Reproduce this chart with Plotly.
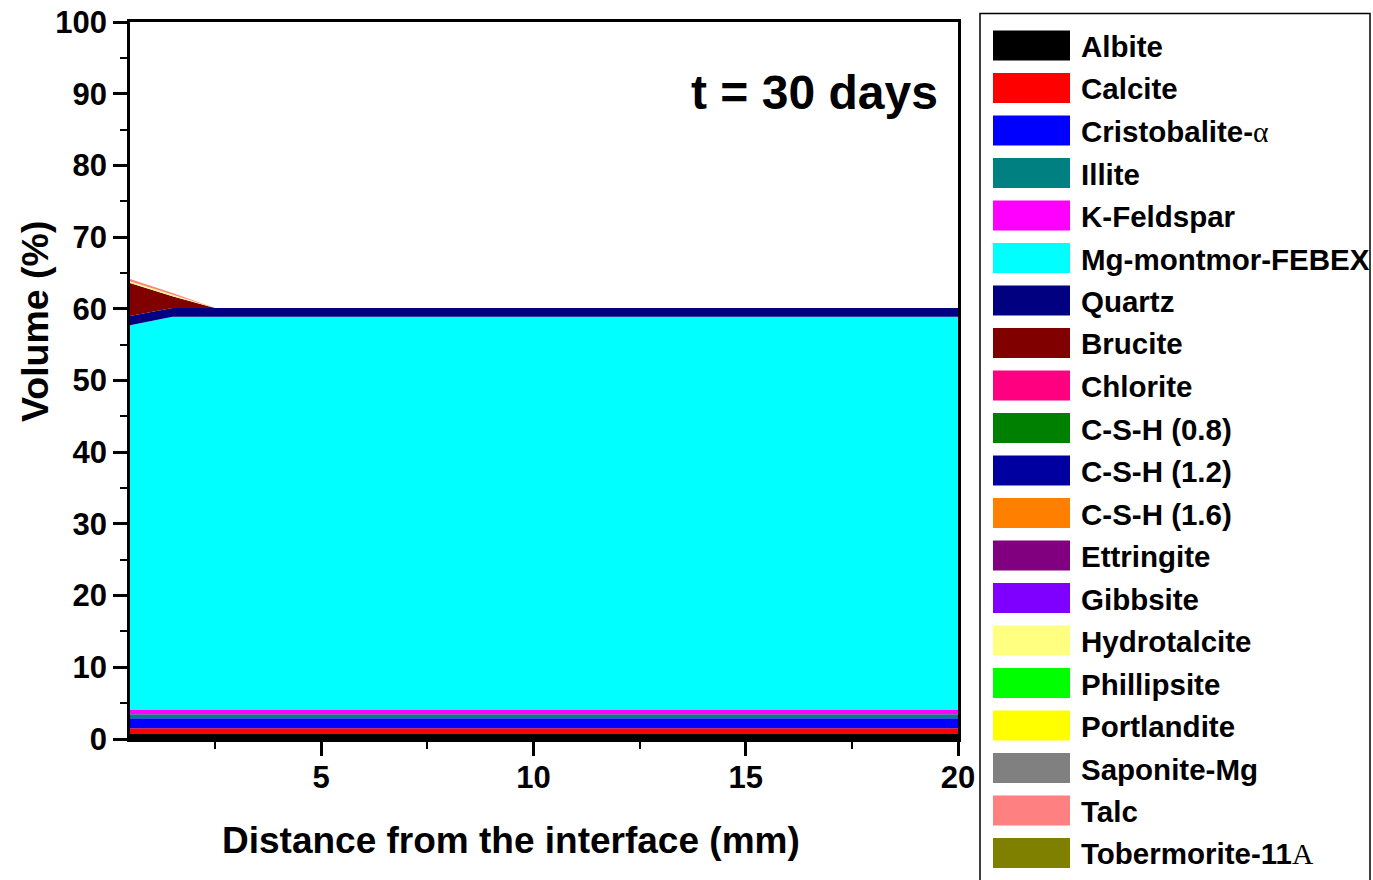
import plotly.graph_objects as go

# ---- data (volume %) ----
distance_mm = [0.5, 1.5, 2.5, 20.0]

albite = [0.7, 0.7, 0.7, 0.7]
calcite = [0.8, 0.8, 0.8, 0.8]
cristobalite = [1.4, 1.4, 1.4, 1.4]
illite = [0.55, 0.55, 0.55, 0.55]
k_feldspar = [0.6, 0.6, 0.6, 0.6]
mg_montmor = [53.65, 54.85, 54.85, 54.85]
quartz = [1.3, 1.2, 1.2, 1.2]
brucite = [4.6, 1.65, 0.0, 0.0]
chlorite = [0.0, 0.0, 0.0, 0.0]
csh_08 = [0.0, 0.0, 0.0, 0.0]
csh_12 = [0.0, 0.0, 0.0, 0.0]
csh_16 = [0.0, 0.0, 0.0, 0.0]
ettringite = [0.0, 0.0, 0.0, 0.0]
gibbsite = [0.0, 0.0, 0.0, 0.0]
hydrotalcite = [0.25, 0.25, 0.0, 0.0]
phillipsite = [0.0, 0.0, 0.0, 0.0]
portlandite = [0.0, 0.0, 0.0, 0.0]
saponite_mg = [0.0, 0.0, 0.0, 0.0]
talc = [0.3, 0.2, 0.0, 0.0]
tobermorite = [0.0, 0.0, 0.0, 0.0]

SERIF = "font-family:'Liberation Serif','Times New Roman',serif;font-weight:normal"
names = ["Albite", "Calcite", f"Cristobalite-<span style=\"{SERIF}\">α</span>", "Illite",
         "K-Feldspar", "Mg-montmor-FEBEX", "Quartz", "Brucite", "Chlorite",
         "C-S-H (0.8)", "C-S-H (1.2)", "C-S-H (1.6)", "Ettringite", "Gibbsite",
         "Hydrotalcite", "Phillipsite", "Portlandite", "Saponite-Mg", "Talc",
         f"Tobermorite-11<span style=\"{SERIF}\">A</span>"]
series = [albite, calcite, cristobalite, illite, k_feldspar, mg_montmor, quartz,
          brucite, chlorite, csh_08, csh_12, csh_16, ettringite, gibbsite,
          hydrotalcite, phillipsite, portlandite, saponite_mg, talc, tobermorite]
colors = ["#000000", "#FF0000", "#0000FF", "#008080", "#FF00FF", "#00FFFF",
          "#000080", "#800000", "#FF0080", "#008000", "#0000A0", "#FF8000",
          "#800080", "#8000FF", "#FFFF80", "#00FF00", "#FFFF00", "#808080",
          "#FF8080", "#808000"]

y_ticks = [0, 10, 20, 30, 40, 50, 60, 70, 80, 90, 100]
x_ticks = [5, 10, 15, 20]

FONT = "Liberation Sans, Arial, sans-serif"
W, H = 1373, 880
L, R, T, B = 130, 958, 22, 739  # plot area pixels


def px_x(p):
    return (p - L) / (R - L)


def px_y(p):
    return (B - p) / (B - T)


fig = go.Figure()
for name, vals, col in zip(names, series, colors):
    fig.add_trace(go.Scatter(
        x=distance_mm, y=vals, name=name, stackgroup="one", mode="lines",
        line=dict(width=0, color=col), fillcolor=col, showlegend=False,
    ))

shapes = []
annotations = []

# legend box (bottom edge runs off the page, as in the original)
shapes.append(dict(type="rect", xref="paper", yref="paper",
                   x0=px_x(980), x1=px_x(1370), y0=px_y(905), y1=px_y(13.5),
                   line=dict(color="black", width=1.5), fillcolor="rgba(0,0,0,0)"))
for i, (name, col) in enumerate(zip(names, colors)):
    cy = 45.5 + 42.5 * i
    shapes.append(dict(type="rect", xref="paper", yref="paper",
                       x0=px_x(993), x1=px_x(1070), y0=px_y(cy + 15), y1=px_y(cy - 15),
                       line=dict(width=0), fillcolor=col))
    annotations.append(dict(xref="paper", yref="paper", x=px_x(1079), y=px_y(cy + 1),
                            xanchor="left", yanchor="middle", showarrow=False,
                            text=name, font=dict(family=FONT, size=29.5, color="black",
                                                 weight="bold")))

annotations.append(dict(xref="paper", yref="paper", x=px_x(940), y=px_y(93),
                        xanchor="right", yanchor="middle", showarrow=False,
                        text="t = 30 days",
                        font=dict(family=FONT, size=48, color="black", weight="bold")))
annotations.append(dict(xref="paper", yref="paper", x=px_x(511), y=px_y(840),
                        xanchor="center", yanchor="middle", showarrow=False,
                        text="Distance from the interface (mm)",
                        font=dict(family=FONT, size=37, color="black", weight="bold")))
annotations.append(dict(xref="paper", yref="paper", x=px_x(35), y=px_y(322),
                        xanchor="center", yanchor="middle", showarrow=False,
                        textangle=-90, text="Volume (%)",
                        font=dict(family=FONT, size=37.5, color="black", weight="bold")))

fig.update_layout(
    width=W, height=H,
    margin=dict(l=L, r=W - R, t=T, b=H - B, pad=0, autoexpand=False),
    paper_bgcolor="white", plot_bgcolor="white",
    showlegend=False,
    shapes=shapes, annotations=annotations,
)
fig.update_xaxes(
    range=[0.5, 20], tickvals=x_ticks, ticktext=[str(v) for v in x_ticks],
    automargin=False,
    showgrid=False, zeroline=False,
    showline=True, mirror=True, linecolor="black", linewidth=2.5,
    ticks="outside", ticklen=14, tickwidth=2.5, tickcolor="black",
    ticklabelstandoff=-5,
    minor=dict(dtick=2.5, tick0=0, ticks="outside", ticklen=7, tickwidth=2, tickcolor="black",
               showgrid=False),
    tickfont=dict(family=FONT, size=31, color="black", weight="bold"),
)
fig.update_yaxes(
    range=[0, 100], tickvals=y_ticks, ticktext=[str(v) for v in y_ticks],
    automargin=False,
    showgrid=False, zeroline=False,
    showline=True, mirror=True, linecolor="black", linewidth=2.5,
    ticks="outside", ticklen=14, tickwidth=2.5, tickcolor="black",
    minor=dict(dtick=5, tick0=0, ticks="outside", ticklen=7, tickwidth=2, tickcolor="black",
               showgrid=False),
    tickfont=dict(family=FONT, size=31, color="black", weight="bold"),
)

fig.write_html(
    "out.html",
    config={"displayModeBar": False},
    post_script="document.body.style.margin='0';document.body.style.overflow='hidden';",
)
